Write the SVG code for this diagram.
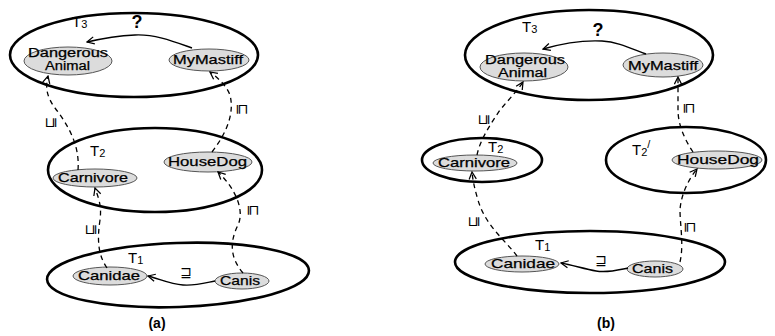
<svg xmlns="http://www.w3.org/2000/svg" width="775" height="336" viewBox="0 0 775 336">
<style>
.box{fill:none;stroke:#000;stroke-width:2.6}
.node{fill:#dcdcdc;stroke:#555;stroke-width:1}
.nt{font-family:"Liberation Sans",Arial,sans-serif;font-size:13px;fill:#000;stroke:#000;stroke-width:0.25}
.nt2{font-size:12px}
.tl{font-family:"Liberation Sans",Arial,sans-serif;font-size:15px;fill:#000}
.sub{font-size:11px}
.q{font-family:"Liberation Sans",Arial,sans-serif;font-size:18px;font-weight:bold;fill:#000}
.cap{font-family:"Liberation Sans",Arial,sans-serif;font-size:14px;font-weight:bold;fill:#000}
.sym{font-family:"DejaVu Sans",sans-serif;font-size:14px;fill:#000}
.solid{fill:none;stroke:#000;stroke-width:1.4}
.dash{fill:none;stroke:#000;stroke-width:1.3;stroke-dasharray:5 4}
</style>
<defs>
<marker id="arr" viewBox="0 0 10 10" refX="9" refY="5" markerWidth="9" markerHeight="9" markerUnits="userSpaceOnUse" orient="auto">
<path d="M1,1 L9,5 L1,9" fill="none" stroke="#000" stroke-width="1.4" stroke-dasharray="none"/>
</marker>
</defs>
<rect width="775" height="336" fill="#fff"/>

<!-- Panel (a) -->
<g id="a-T3"><ellipse class="box" cx="134" cy="55" rx="124" ry="42"/><text class="tl" x="72" y="27">T<tspan class="sub" dy="1">3</tspan></text></g>
<g id="a-T2"><ellipse class="box" cx="155" cy="170" rx="107" ry="42"/><text class="tl" x="90" y="156">T<tspan class="sub" dy="1">2</tspan></text></g>
<g id="a-T1"><ellipse class="box" cx="178" cy="275" rx="131" ry="32" transform="rotate(-2 178 275)"/><text class="tl" x="128" y="263">T<tspan class="sub" dy="1">1</tspan></text></g>

<g id="a-DangerousAnimal"><ellipse class="node" cx="68" cy="61" rx="44" ry="14"/><text class="nt nt2" x="28" y="57" textLength="80" lengthAdjust="spacingAndGlyphs">Dangerous</text><text class="nt nt2" x="45" y="70" textLength="45" lengthAdjust="spacingAndGlyphs">Animal</text></g>
<g id="a-MyMastiff"><ellipse class="node" cx="209" cy="60" rx="40" ry="11"/><text class="nt" x="173" y="64" textLength="70" lengthAdjust="spacingAndGlyphs">MyMastiff</text></g>
<g id="a-Carnivore"><ellipse class="node" cx="95" cy="178" rx="42" ry="9"/><text class="nt" x="58" y="182" textLength="70" lengthAdjust="spacingAndGlyphs">Carnivore</text></g>
<g id="a-HouseDog"><ellipse class="node" cx="208" cy="162" rx="44" ry="10"/><text class="nt" x="168" y="166" textLength="79" lengthAdjust="spacingAndGlyphs">HouseDog</text></g>
<g id="a-Canidae"><ellipse class="node" cx="110" cy="276" rx="37" ry="9"/><text class="nt" x="78" y="280" textLength="62" lengthAdjust="spacingAndGlyphs">Canidae</text></g>
<g id="a-Canis"><ellipse class="node" cx="242" cy="281" rx="27" ry="8"/><text class="nt" x="220" y="285" textLength="40" lengthAdjust="spacingAndGlyphs">Canis</text></g>

<!-- Panel (b) -->
<g id="b-T3"><ellipse class="box" cx="589" cy="55" rx="124" ry="45"/><text class="tl" x="522" y="32">T<tspan class="sub" dy="1">3</tspan></text></g>
<g id="b-T2"><ellipse class="box" cx="482" cy="160" rx="60" ry="22"/><text class="tl" x="488" y="152">T<tspan class="sub" dy="1">2</tspan></text></g>
<g id="b-T2prime"><ellipse class="box" cx="686" cy="160" rx="80" ry="33"/><text class="tl" x="632" y="155">T<tspan class="sub" dy="1">2</tspan><tspan class="sub" dy="-8">/</tspan></text></g>
<g id="b-T1"><ellipse class="box" cx="590" cy="262" rx="135" ry="31"/><text class="tl" x="535" y="250">T<tspan class="sub" dy="1">1</tspan></text></g>

<g id="b-DangerousAnimal"><ellipse class="node" cx="524" cy="67" rx="44" ry="14"/><text class="nt nt2" x="485" y="64" textLength="80" lengthAdjust="spacingAndGlyphs">Dangerous</text><text class="nt nt2" x="498" y="77" textLength="49" lengthAdjust="spacingAndGlyphs">Animal</text></g>
<g id="b-MyMastiff"><ellipse class="node" cx="663" cy="65" rx="40" ry="12"/><text class="nt" x="628" y="70" textLength="70" lengthAdjust="spacingAndGlyphs">MyMastiff</text></g>
<g id="b-Carnivore"><ellipse class="node" cx="475" cy="163" rx="42" ry="8"/><text class="nt" x="438" y="167" textLength="72" lengthAdjust="spacingAndGlyphs">Carnivore</text></g>
<g id="b-HouseDog"><ellipse class="node" cx="717" cy="160" rx="45" ry="9"/><text class="nt" x="677" y="164" textLength="82" lengthAdjust="spacingAndGlyphs">HouseDog</text></g>
<g id="b-Canidae"><ellipse class="node" cx="522" cy="264" rx="37" ry="8"/><text class="nt" x="491" y="268" textLength="64" lengthAdjust="spacingAndGlyphs">Canidae</text></g>
<g id="b-Canis"><ellipse class="node" cx="655" cy="269" rx="28" ry="8"/><text class="nt" x="632" y="273" textLength="41" lengthAdjust="spacingAndGlyphs">Canis</text></g>

<g id="connectors">
<!-- (a) -->
<path class="solid" d="M192,48 C175,42 155,34 135,35 C115,36 100,39 87,42" marker-end="url(#arr)"/>
<path class="solid" d="M215,281 C205,283 195,286 183,285 C170,284 160,279 148,276" marker-end="url(#arr)"/>
<path class="dash" d="M78,170 C80,145 68,125 55,108 C47,97 45,88 48,76" marker-end="url(#arr)"/>
<path class="dash" d="M107,268 C98,255 97,240 100,220 C102,205 98,197 95,188" marker-end="url(#arr)"/>
<path class="dash" d="M243,273 C232,260 228,245 238,225 C245,210 235,188 218,172" marker-end="url(#arr)"/>
<path class="dash" d="M212,152 C225,135 235,115 230,95 C226,85 218,78 210,72" marker-end="url(#arr)"/>
<!-- (b) -->
<path class="solid" d="M646,54 C630,48 618,42 602,41 C582,40 560,44 543,49" marker-end="url(#arr)"/>
<path class="solid" d="M628,268 C618,270 608,273 596,271 C585,269 572,265 561,263" marker-end="url(#arr)"/>
<path class="dash" d="M477,155 C480,140 490,125 500,110 C510,98 518,90 523,82" marker-end="url(#arr)"/>
<path class="dash" d="M517,256 C505,240 485,225 478,200 C475,190 473,182 472,172" marker-end="url(#arr)"/>
<path class="dash" d="M680,262 C684,245 680,225 680,210 C681,195 688,180 697,169" marker-end="url(#arr)"/>
<path class="dash" d="M693,152 C685,140 678,125 678,110 L678,77" marker-end="url(#arr)"/>

<!-- labels -->
<text class="q" x="137" y="28" text-anchor="middle">?</text>
<text class="q" x="598" y="36" text-anchor="middle">?</text>
<text class="sym" x="186" y="277" text-anchor="middle">⊒</text>
<text class="sym" x="601" y="265" text-anchor="middle">⊒</text>
<text class="sym" transform="translate(50,123) rotate(-90)" text-anchor="middle" dominant-baseline="central">⊑</text>
<text class="sym" transform="translate(90,230) rotate(-90)" text-anchor="middle" dominant-baseline="central">⊑</text>
<text class="sym" transform="translate(243,109) rotate(90)" text-anchor="middle" dominant-baseline="central">⊑</text>
<text class="sym" transform="translate(254,210) rotate(90)" text-anchor="middle" dominant-baseline="central">⊑</text>
<text class="sym" transform="translate(483,120) rotate(-90)" text-anchor="middle" dominant-baseline="central">⊑</text>
<text class="sym" transform="translate(473,222) rotate(-90)" text-anchor="middle" dominant-baseline="central">⊑</text>
<text class="sym" transform="translate(690,108) rotate(90)" text-anchor="middle" dominant-baseline="central">⊑</text>
<text class="sym" transform="translate(691,227) rotate(90)" text-anchor="middle" dominant-baseline="central">⊑</text>
</g>

<text class="cap" x="157" y="328" text-anchor="middle">(a)</text>
<text class="cap" x="606" y="328" text-anchor="middle">(b)</text>
</svg>
